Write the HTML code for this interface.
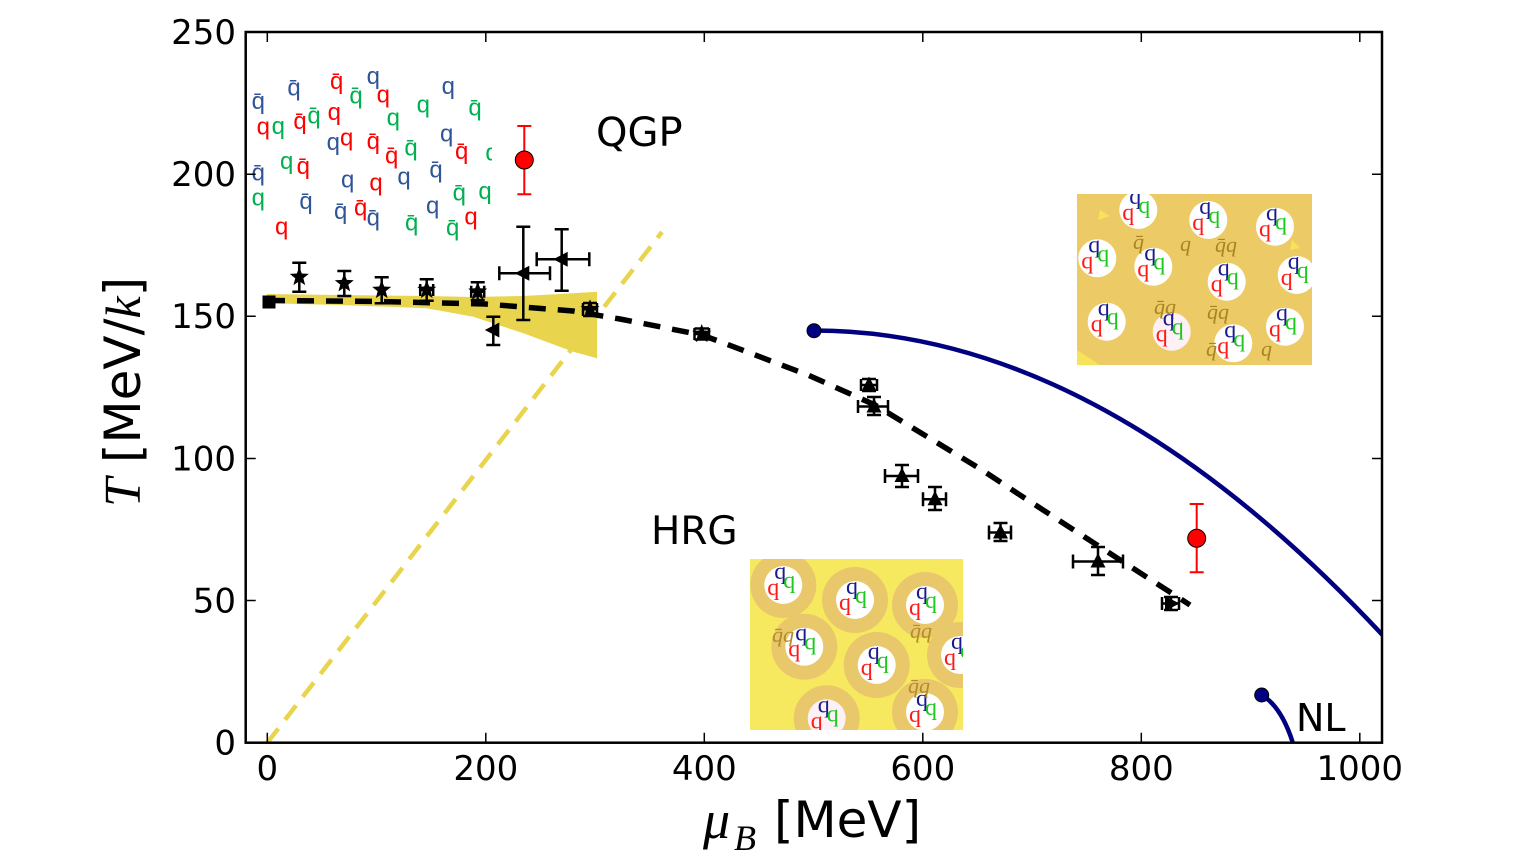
<!DOCTYPE html>
<html><head><meta charset="utf-8"><style>html,body{margin:0;padding:0;background:#fff}svg{display:block}</style></head>
<body>
<svg width="1536" height="864" viewBox="0 0 1536 864" xmlns="http://www.w3.org/2000/svg" font-family="'DejaVu Sans', sans-serif">
<defs>
<clipPath id="cP"><rect x="246" y="32" width="1136" height="711"/></clipPath>
<clipPath id="cQ"><rect x="246" y="60" width="246" height="190"/></clipPath>
<clipPath id="cH"><rect x="750" y="559" width="213" height="171"/></clipPath>
<clipPath id="cR"><rect x="1077" y="194" width="235" height="171"/></clipPath>
<path id="star" d="M0,-10 L2.5,-3.44 L9.51,-3.09 L4.04,1.31 L5.88,8.09 L0,4.25 L-5.88,8.09 L-4.04,1.31 L-9.51,-3.09 L-2.5,-3.44 Z"/>
<path id="tu" d="M0,-8.5 L7.5,6 L-7.5,6 Z"/>
<path id="tl" d="M-8.5,0 L6,-7.5 L6,7.5 Z"/>
<path id="tr" d="M8.5,0 L-6,-7.5 L-6,7.5 Z"/>
</defs>
<rect width="1536" height="864" fill="#fff"/>

<!-- QGP quark soup -->
<g clip-path="url(#cQ)" font-family="'Liberation Sans', sans-serif" font-size="24" text-anchor="middle">
<text x="258.3" y="109" fill="#2f5597">q̄</text>
<text x="294" y="95.7" fill="#2f5597">q̄</text>
<text x="336.7" y="89" fill="#ff0000">q̄</text>
<text x="373.3" y="84" fill="#2f5597">q</text>
<text x="356" y="103.3" fill="#00b050">q̄</text>
<text x="383.3" y="102.3" fill="#ff0000">q</text>
<text x="448.3" y="94" fill="#2f5597">q</text>
<text x="423.3" y="112.3" fill="#00b050">q</text>
<text x="475" y="115.7" fill="#00b050">q̄</text>
<text x="263.3" y="134.7" fill="#ff0000">q</text>
<text x="278.3" y="134" fill="#00b050">q</text>
<text x="300" y="129" fill="#ff0000">q̄</text>
<text x="314" y="123.3" fill="#00b050">q̄</text>
<text x="334.3" y="120" fill="#ff0000">q</text>
<text x="393.3" y="125.7" fill="#00b050">q</text>
<text x="333.3" y="150" fill="#2f5597">q</text>
<text x="346.7" y="145.7" fill="#ff0000">q</text>
<text x="373.3" y="149" fill="#ff0000">q̄</text>
<text x="391.7" y="163.3" fill="#ff0000">q̄</text>
<text x="411" y="155.7" fill="#00b050">q̄</text>
<text x="446.7" y="141.7" fill="#2f5597">q</text>
<text x="461.7" y="159" fill="#ff0000">q̄</text>
<text x="492" y="160.7" fill="#00b050">q</text>
<text x="258.3" y="180.7" fill="#2f5597">q̄</text>
<text x="286.7" y="169" fill="#00b050">q</text>
<text x="303.3" y="174" fill="#ff0000">q̄</text>
<text x="347.7" y="187.3" fill="#2f5597">q</text>
<text x="376" y="190.7" fill="#ff0000">q</text>
<text x="404" y="184.7" fill="#2f5597">q</text>
<text x="436" y="177.3" fill="#2f5597">q̄</text>
<text x="258.3" y="205.7" fill="#00b050">q</text>
<text x="306" y="209" fill="#2f5597">q̄</text>
<text x="340.7" y="219" fill="#2f5597">q̄</text>
<text x="360.7" y="215.7" fill="#ff0000">q̄</text>
<text x="373.3" y="225.7" fill="#2f5597">q̄</text>
<text x="432.7" y="213.3" fill="#2f5597">q</text>
<text x="459.3" y="200.7" fill="#00b050">q̄</text>
<text x="485" y="199" fill="#00b050">q</text>
<text x="281.7" y="234.7" fill="#ff0000">q</text>
<text x="411.7" y="230.7" fill="#00b050">q̄</text>
<text x="452.7" y="235.7" fill="#00b050">q̄</text>
<text x="471" y="224.7" fill="#ff0000">q</text>
</g>

<!-- HRG inset -->
<g clip-path="url(#cH)">
<rect x="750" y="559" width="213" height="171" fill="#f6e960"/>
<g fill="#e9c76b">
<circle cx="783.3" cy="585" r="33"/><circle cx="855" cy="600" r="33"/><circle cx="925" cy="605" r="33"/>
<circle cx="804.3" cy="646.7" r="33"/><circle cx="876.7" cy="665" r="33"/><circle cx="960" cy="655" r="33"/>
<circle cx="826.7" cy="718.3" r="33"/><circle cx="925" cy="712" r="33"/>
</g>
<g fill="#fff">
<circle cx="783.3" cy="585" r="19"/><circle cx="855" cy="600" r="19"/><circle cx="925" cy="605" r="19"/>
<circle cx="804.3" cy="646.7" r="19"/><circle cx="876.7" cy="665" r="19"/><circle cx="960" cy="655" r="19"/>
<circle cx="826.7" cy="718.3" r="19" fill="#fdf1f5"/><circle cx="925" cy="712" r="19"/>
</g>
<g font-family="'Liberation Serif', serif" font-size="24" text-anchor="middle">
<g fill="#1a1a90">
<text x="780.3" y="579">q</text><text x="852" y="594">q</text><text x="922" y="599">q</text><text x="801.3" y="640.7">q</text><text x="873.7" y="659">q</text><text x="957" y="649">q</text><text x="823.7" y="712.3">q</text><text x="922" y="706">q</text>
</g>
<g fill="#1ec81e">
<text x="789.3" y="588">q</text><text x="861" y="603">q</text><text x="931" y="608">q</text><text x="810.3" y="649.7">q</text><text x="882.7" y="668">q</text><text x="966" y="658">q</text><text x="832.7" y="721.3">q</text><text x="931" y="715">q</text>
</g>
<g fill="#ff1a1a">
<text x="773.3" y="595">q</text><text x="845" y="610">q</text><text x="915" y="615">q</text><text x="794.3" y="656.7">q</text><text x="866.7" y="675">q</text><text x="950" y="665">q</text><text x="816.7" y="728.3">q</text><text x="915" y="722">q</text>
</g>
</g>
<g font-family="'Liberation Serif', serif" font-style="italic" font-size="22" fill="#b48c28">
<text x="772" y="642">q̄q</text><text x="910" y="638">q̄q</text><text x="908" y="693">q̄q</text>
</g>
</g>

<!-- right inset -->
<g clip-path="url(#cR)">
<rect x="1077" y="194" width="235" height="171" fill="#ecca66"/>
<g fill="#f7e25a">
<path d="M1077,350 L1100,365 L1077,365 Z"/><path d="M1292,240 L1300,248 L1290,250 Z"/><path d="M1100,210 L1110,216 L1098,220 Z"/>
</g>
<g fill="#fff">
<circle cx="1138.3" cy="210" r="19"/><circle cx="1208.3" cy="220" r="19"/><circle cx="1275" cy="226.7" r="19"/>
<circle cx="1097.3" cy="258.3" r="19"/><circle cx="1153.3" cy="266.7" r="19"/><circle cx="1226.7" cy="281.7" r="19"/>
<circle cx="1296.7" cy="275" r="19"/><circle cx="1106.7" cy="321.7" r="19"/><circle cx="1171.7" cy="331.7" r="19" fill="#fdf1f5"/>
<circle cx="1233.3" cy="343.3" r="19"/><circle cx="1285" cy="326.7" r="19"/>
</g>
<g font-family="'Liberation Serif', serif" font-style="italic" font-size="22" fill="#a88520">
<text x="1133" y="249">q̄</text><text x="1180" y="251">q</text><text x="1215" y="252">q̄q</text>
<text x="1154" y="314">q̄q</text><text x="1207" y="319">q̄q</text><text x="1206" y="356">q̄</text><text x="1261" y="356">q</text>
</g>
<g font-family="'Liberation Serif', serif" font-size="24" text-anchor="middle">
<g fill="#1a1a90">
<text x="1135.3" y="204">q</text><text x="1205.3" y="214">q</text><text x="1272" y="220.7">q</text><text x="1094.3" y="252.3">q</text><text x="1150.3" y="260.7">q</text><text x="1223.7" y="275.7">q</text><text x="1293.7" y="269">q</text><text x="1103.7" y="315.7">q</text><text x="1168.7" y="325.7">q</text><text x="1230.3" y="337.3">q</text><text x="1282" y="320.7">q</text>
</g>
<g fill="#1ec81e">
<text x="1144.3" y="213">q</text><text x="1214.3" y="223">q</text><text x="1281" y="229.7">q</text><text x="1103.3" y="261.3">q</text><text x="1159.3" y="269.7">q</text><text x="1232.7" y="284.7">q</text><text x="1302.7" y="278">q</text><text x="1112.7" y="324.7">q</text><text x="1177.7" y="334.7">q</text><text x="1239.3" y="346.3">q</text><text x="1291" y="329.7">q</text>
</g>
<g fill="#ff1a1a">
<text x="1128.3" y="220">q</text><text x="1198.3" y="230">q</text><text x="1265" y="236.7">q</text><text x="1087.3" y="268.3">q</text><text x="1143.3" y="276.7">q</text><text x="1216.7" y="291.7">q</text><text x="1286.7" y="285">q</text><text x="1096.7" y="331.7">q</text><text x="1161.7" y="341.7">q</text><text x="1223.3" y="353.3">q</text><text x="1275" y="336.7">q</text>
</g>
</g>
</g>

<g clip-path="url(#cP)">
<!-- lattice band -->
<polygon fill="#e9d44e" points="266.7,294 340,295 426.7,296 473,297 523,296 560,294 597,291.7 597,358.3 573.3,351.7 523.3,333.3 473.3,316.7 426.7,308.3 340,305 266.7,303.3"/>
<!-- yellow dashed diagonal -->
<line x1="267.3" y1="742.7" x2="662" y2="232" stroke="#e9d44e" stroke-width="4.5" stroke-dasharray="18 11"/>
<!-- black dashed freeze-out -->
<polyline fill="none" stroke="#000" stroke-width="5.5" stroke-dasharray="17 12" points="268,300.5 380,301.5 485,304 573,311 620,319 702,335 721.7,342.3 808,375 875,405 982,470 1020,495 1100,547 1190,605"/>
<!-- blue curves -->
<path fill="none" stroke="#000080" stroke-width="4.5" d="M813.6,330.5 Q1103.1,330.5 1392.6,645.9"/>
<path d="M1261.7,695 Q1282,707 1293.5,745" fill="none" stroke="#000080" stroke-width="4.5"/>
</g>
<circle cx="814" cy="330.7" r="7" fill="#000080" stroke="#000" stroke-width="1"/>
<circle cx="1261.7" cy="695" r="7" fill="#000080" stroke="#000" stroke-width="1"/>

<!-- error bars -->
<g stroke="#000" stroke-width="2.5" fill="none">
<path d="M299.3,262.7V291.7M292.3,262.7H306.3M292.3,291.7H306.3"/>
<path d="M344.3,271V296M337.3,271H351.3M337.3,296H351.3"/>
<path d="M381.7,277.3V303.3M374.7,277.3H388.7M374.7,303.3H388.7"/>
<path d="M426.7,279.3V300.7M419.7,279.3H433.7M419.7,300.7H433.7M420.2,290H433.2M420.2,284V296M433.2,284V296"/>
<path d="M477.7,282.3V300M470.7,282.3H484.7M470.7,300H484.7M471.2,291.7H484.2M471.2,285.7V297.7M484.2,285.7V297.7"/>
<path d="M493.3,316.7V345M486.3,316.7H500.3M486.3,345H500.3"/>
<path d="M523.3,226.7V320M516.3,226.7H530.3M516.3,320H530.3M499.3,273.3H550M499.3,266.3V280.3M550,266.3V280.3"/>
<path d="M561.7,229.3V290.7M554.7,229.3H568.7M554.7,290.7H568.7M536.7,259.3H589.3M536.7,252.3V266.3M589.3,252.3V266.3"/>
<path d="M590,303V316M583,303H597M583,316H597M583,309.3H597M583,303V316M597,303V316"/>
<path d="M701.7,328.5V339.5M694.5,328.5H709M694.5,339.5H709M694.5,334H709M694.5,328V340M709,328V340"/>
<path d="M869,379V391M862,379H876M862,391H876M861,385H877M861,379V391M877,379V391"/>
<path d="M874,397V415M867,397H881M867,415H881M858,406.5H888M858,400V413M888,400V413"/>
<path d="M902,465V487M895,465H909M895,487H909M885,476H918M885,469V483M918,469V483"/>
<path d="M935,487V510M928,487H942M928,510H942M923,499.3H946M923,492.3V506.3M946,492.3V506.3"/>
<path d="M1000.5,523V541M993.5,523H1007.5M993.5,541H1007.5M989,532.5H1011M989,525.5V539.5M1011,525.5V539.5"/>
<path d="M1098,547V575M1091,547H1105M1091,575H1105M1073,561.5H1123M1073,554.5V568.5M1123,554.5V568.5"/>
<path d="M1171,597V610M1164,597H1178M1164,610H1178M1162,603.5H1179M1162,597V610M1179,597V610"/>
</g>
<!-- markers -->
<g fill="#000">
<rect x="262.5" y="295.5" width="13" height="13"/>
<use href="#star" x="299.3" y="277"/>
<use href="#star" x="344.3" y="283.3"/>
<use href="#star" x="381.7" y="290"/>
<use href="#star" x="426.7" y="290"/>
<use href="#star" x="477.7" y="291.7"/>
<use href="#tl" x="493.3" y="330"/>
<use href="#tl" x="523.3" y="273.3"/>
<use href="#tl" x="561.7" y="259.3"/>
<use href="#star" x="590" y="309.3"/>
<use href="#star" x="701.7" y="334"/>
<use href="#tu" x="869" y="385"/>
<use href="#tu" x="874" y="406.5"/>
<use href="#tu" x="902" y="476"/>
<use href="#tu" x="935" y="499.3"/>
<use href="#tu" x="1000.5" y="532.5"/>
<use href="#tu" x="1098" y="561.5"/>
<use href="#tr" x="1171" y="603.5"/>
</g>
<!-- red points -->
<g stroke="#ff0000" stroke-width="2">
<path d="M524.3,126V194.3M517.3,126H531.3M517.3,194.3H531.3"/>
<path d="M1196.7,504V572.3M1189.7,504H1203.7M1189.7,572.3H1203.7"/>
</g>
<circle cx="524.3" cy="160" r="9" fill="#ff0000" stroke="#000" stroke-width="1"/>
<circle cx="1196.7" cy="538.3" r="9" fill="#ff0000" stroke="#000" stroke-width="1"/>

<!-- frame and ticks -->
<rect x="245.7" y="32" width="1136.3" height="710.7" fill="none" stroke="#000" stroke-width="2.5"/>
<g stroke="#000" stroke-width="1.5">
<path d="M267.3,742.7V732.7M485.8,742.7V732.7M704.3,742.7V732.7M922.8,742.7V732.7M1141.3,742.7V732.7M1359.8,742.7V732.7"/>
<path d="M267.3,32V42M485.8,32V42M704.3,32V42M922.8,32V42M1141.3,32V42M1359.8,32V42"/>
<path d="M245.7,600.5H255.7M245.7,458.5H255.7M245.7,316.3H255.7M245.7,174.2H255.7"/>
<path d="M1382,600.5H1372M1382,458.5H1372M1382,316.3H1372M1382,174.2H1372"/>
</g>

<!-- tick labels -->
<g font-size="34" fill="#000">
<g text-anchor="end">
<text x="236" y="44">250</text><text x="236" y="186">200</text><text x="236" y="328">150</text><text x="236" y="470.5">100</text><text x="236" y="612.5">50</text><text x="236" y="754.7">0</text>
</g>
<g text-anchor="middle">
<text x="267.3" y="780">0</text><text x="485.8" y="780">200</text><text x="704.3" y="780">400</text><text x="922.8" y="780">600</text><text x="1141.3" y="780">800</text><text x="1359.8" y="780">1000</text>
</g>
</g>

<!-- axis labels -->
<text x="703" y="838" font-family="'Liberation Serif', serif" font-style="italic" font-size="54">μ</text>
<text x="734" y="850" font-family="'Liberation Serif', serif" font-style="italic" font-size="36">B</text>
<text x="774" y="837" font-size="50">[MeV]</text>
<text transform="rotate(-90)" x="-507" y="140" font-family="'Liberation Serif', serif" font-style="italic" font-size="52">T</text>
<text transform="rotate(-90)" x="-463" y="140" font-size="50">[MeV/<tspan font-family="'Liberation Serif', serif" font-style="italic">k</tspan>]</text>

<!-- region labels -->
<text x="596" y="146" font-size="40">QGP</text>
<text x="651" y="544" font-size="39">HRG</text>
<text x="1296" y="731" font-size="38">NL</text>
</svg>
</body></html>
